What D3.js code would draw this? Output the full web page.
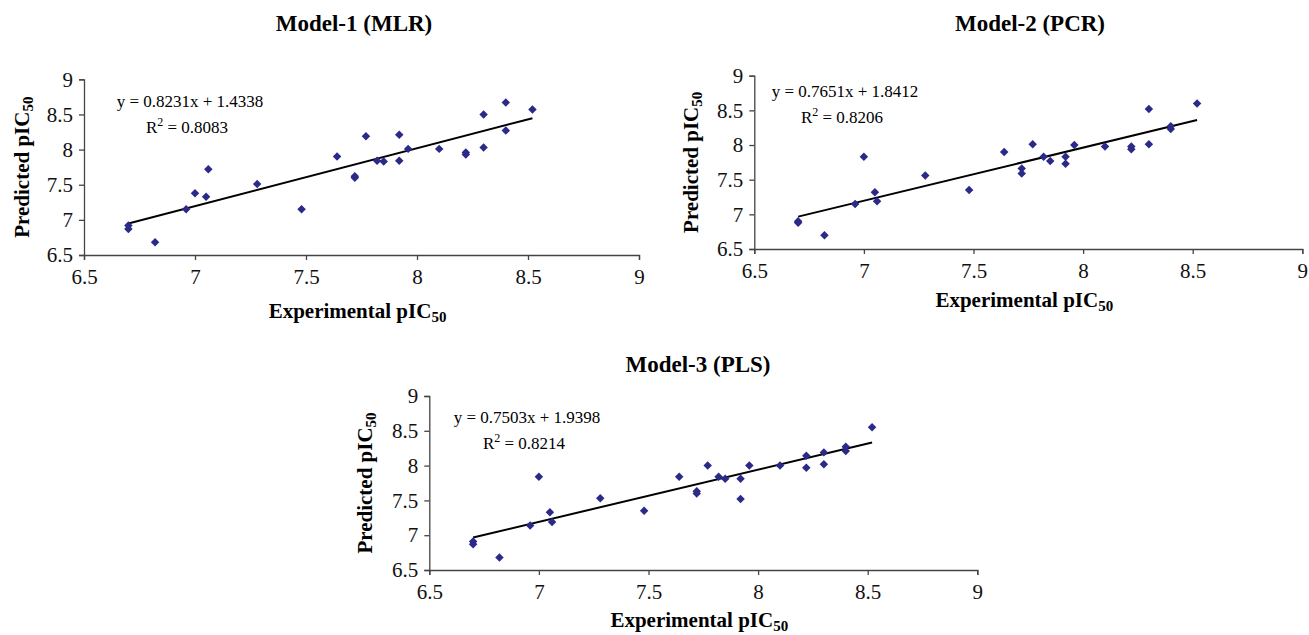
<!DOCTYPE html>
<html>
<head>
<meta charset="utf-8">
<script src="https://cdn.jsdelivr.net/npm/d3@7"></script>
<style>
  body { margin: 0; background: #fff; }
  svg { display: block; font-family: "Liberation Serif", "Times New Roman", serif; }
</style>
</head>
<body>
<div id="canvas"></div>
<script>
// experimental activity (shared by all three models)
var expX = [6.70, 6.70, 6.82, 6.96, 7.00, 7.05, 7.06, 7.28, 7.48, 7.64, 7.72, 7.72, 7.77,
            7.82, 7.85, 7.92, 7.92, 7.96, 8.10, 8.22, 8.22, 8.30, 8.30, 8.40, 8.40, 8.52];

// predicted activity per model
var mlrPred = [6.92, 6.87, 6.68, 7.15, 7.38, 7.33, 7.72, 7.51, 7.15, 7.90, 7.62, 7.60, 8.19,
               7.84, 7.83, 8.21, 7.84, 8.01, 8.01, 7.96, 7.93, 8.50, 8.03, 8.67, 8.27, 8.57];
var pcrPred = [6.90, 6.88, 6.70, 7.15, 7.83, 7.32, 7.19, 7.56, 7.35, 7.90, 7.66, 7.59, 8.01,
               7.83, 7.77, 7.83, 7.73, 8.00, 7.98, 7.98, 7.94, 8.52, 8.01, 8.27, 8.23, 8.60];
var plsPred = [6.91, 6.87, 6.68, 7.14, 7.84, 7.33, 7.19, 7.53, 7.35, 7.84, 7.63, 7.60, 8.00,
               7.84, 7.81, 7.81, 7.52, 8.00, 8.00, 8.14, 7.97, 8.19, 8.02, 8.27, 8.21, 8.55];

var titles = ["Model-1 (MLR)", "Model-2 (PCR)", "Model-3 (PLS)"];
var slopes = [0.8231, 0.7651, 0.7503];
var intercepts = [1.4338, 1.8412, 1.9398];
var eqLabels = ["y = 0.8231x + 1.4338", "y = 0.7651x + 1.8412", "y = 0.7503x + 1.9398"];
var r2Labels = ["0.8083", "0.8206", "0.8214"];
var axisTicks = [6.5, 7, 7.5, 8, 8.5, 9];

var preds = [mlrPred, pcrPred, plsPred];

// pixel frame of each panel (plot area) and where its texts sit
var panels = [
  { x0: 84, x1: 639, y0: 79.3, y1: 255, titleX: 354, titleY: 31, yLabX: 22, xLabY: 318, eqX: 190, eqY: 107 },
  { x0: 754.3, x1: 1302.3, y0: 75.7, y1: 249, titleX: 1030, titleY: 31, yLabX: 691, xLabY: 307, eqX: 845, eqY: 97 },
  { x0: 429.3, x1: 977.3, y0: 396, y1: 570, titleX: 698, titleY: 372, yLabX: 365, xLabY: 627, eqX: 527, eqY: 423 }
];

var svg = d3.select("#canvas")
  .append("svg")
  .attr("width", 1309)
  .attr("height", 635);

svg.append("rect").attr("width", 1309).attr("height", 635).attr("fill", "#fff");

var marker = d3.symbol().type(d3.symbolSquare).size(36);

panels.forEach(function (p, i) {
  var g = svg.append("g");

  var x = d3.scaleLinear().domain([6.5, 9]).range([p.x0, p.x1]);
  var y = d3.scaleLinear().domain([6.5, 9]).range([p.y1, p.y0]);

  // axes
  var xAxis = g.append("g")
    .attr("transform", "translate(0," + p.y1 + ")")
    .call(d3.axisBottom(x).tickValues(axisTicks).tickSize(5).tickPadding(9)
      .tickFormat(d3.format("")));
  var yAxis = g.append("g")
    .attr("transform", "translate(" + p.x0 + ",0)")
    .call(d3.axisLeft(y).tickValues(axisTicks).tickSize(5).tickPadding(6)
      .tickFormat(d3.format("")));

  [xAxis, yAxis].forEach(function (a) {
    a.attr("font-family", null);
    a.select(".domain").attr("stroke", "#444").attr("stroke-width", 1.3);
    a.selectAll(".tick line").attr("stroke", "#444").attr("stroke-width", 1.3);
    a.selectAll(".tick text")
      .attr("fill", "#111")
      .style("font-family", "'Liberation Serif', serif")
      .style("font-size", "21px");
  });

  // trend line over the range of the data
  var ext = d3.extent(expX);
  g.append("line")
    .attr("x1", x(ext[0]))
    .attr("y1", y(slopes[i] * ext[0] + intercepts[i]))
    .attr("x2", x(ext[1]))
    .attr("y2", y(slopes[i] * ext[1] + intercepts[i]))
    .attr("stroke", "#000")
    .attr("stroke-width", 2);

  // points
  g.selectAll("path.pt")
    .data(expX.map(function (v, k) { return { x: v, y: preds[i][k] }; }))
    .enter()
    .append("path")
    .attr("class", "pt")
    .attr("d", marker)
    .attr("transform", function (d) {
      return "translate(" + x(d.x) + "," + y(d.y) + ") rotate(45)";
    })
    .attr("fill", "#2b2a88");

  // title
  g.append("text")
    .attr("x", p.titleX)
    .attr("y", p.titleY)
    .attr("text-anchor", "middle")
    .style("font-size", "23px")
    .style("font-weight", "bold")
    .text(titles[i]);

  // x axis title
  var xt = g.append("text")
    .attr("x", (p.x0 + p.x1) / 2 - 4)
    .attr("y", p.xLabY)
    .attr("text-anchor", "middle")
    .style("font-size", "21px")
    .style("font-weight", "bold");
  xt.append("tspan").text("Experimental pIC");
  xt.append("tspan").attr("dy", 4).style("font-size", "15px").text("50");

  // y axis title
  var yt = g.append("text")
    .attr("transform", "translate(" + p.yLabX + "," + (p.y0 + p.y1) / 2 + ") rotate(-90)")
    .attr("text-anchor", "middle")
    .attr("dy", "0.35em")
    .style("font-size", "21px")
    .style("font-weight", "bold");
  yt.append("tspan").text("Predicted pIC");
  yt.append("tspan").attr("dy", 4).style("font-size", "15px").text("50");

  // equation and R²
  g.append("text")
    .attr("x", p.eqX)
    .attr("y", p.eqY)
    .attr("text-anchor", "middle")
    .style("font-size", "17px")
    .text(eqLabels[i]);
  var r2 = g.append("text")
    .attr("x", p.eqX - 3)
    .attr("y", p.eqY + 26)
    .attr("text-anchor", "middle")
    .style("font-size", "17px");
  r2.append("tspan").text("R");
  r2.append("tspan").attr("dy", -7).style("font-size", "12px").text("2");
  r2.append("tspan").attr("dy", 7).text(" = " + r2Labels[i]);
});
</script>
</body>
</html>
